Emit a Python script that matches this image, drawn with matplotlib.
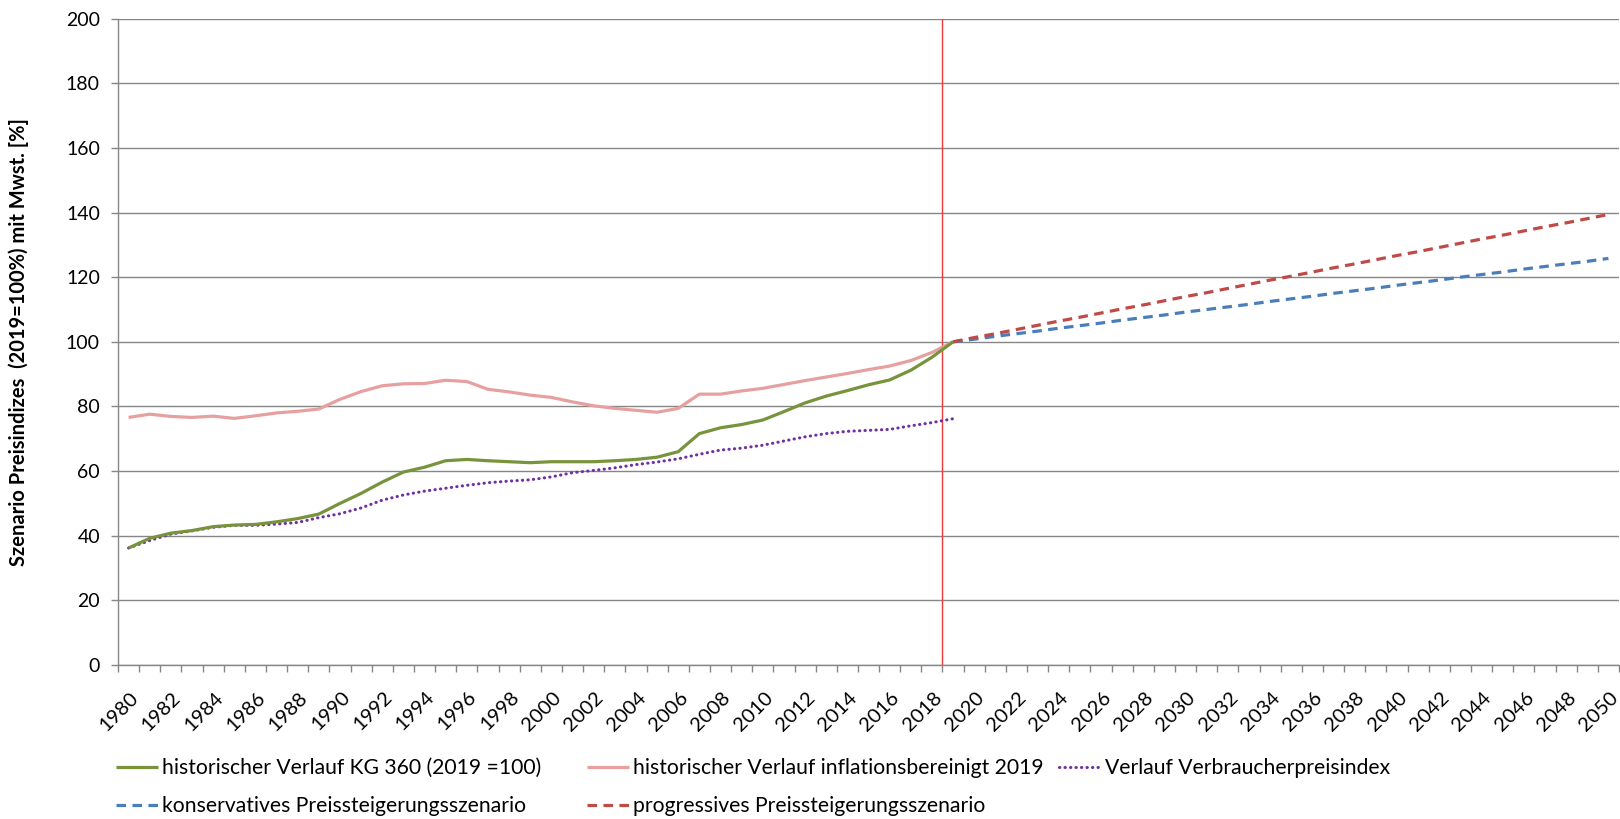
import numpy as np
import matplotlib
matplotlib.use("Agg")
import matplotlib.pyplot as plt
from matplotlib.lines import Line2D
from matplotlib.transforms import ScaledTranslation

years = list(range(1980, 2051))
hist_years = list(range(1980, 2020))
scen_years = list(range(2019, 2051))

kg360 = [36.2, 39.2, 40.8, 41.6, 42.8, 43.3, 43.5, 44.3, 45.3, 46.7,
         50.0, 53.1, 56.6, 59.7, 61.2, 63.2, 63.6, 63.2, 62.9, 62.6,
         62.9, 62.9, 62.9, 63.2, 63.6, 64.3, 66.0, 71.6, 73.4, 74.4,
         75.8, 78.4, 81.1, 83.2, 84.9, 86.7, 88.2, 91.2, 95.2, 100.0]

inflation_adj = [76.6, 77.6, 76.9, 76.6, 77.0, 76.3, 77.1, 78.0, 78.5, 79.2,
                 82.2, 84.6, 86.4, 87.0, 87.1, 88.1, 87.7, 85.3, 84.5, 83.5,
                 82.8, 81.4, 80.2, 79.4, 78.8, 78.2, 79.4, 83.8, 83.8, 84.8,
                 85.6, 86.8, 88.0, 89.1, 90.2, 91.4, 92.5, 94.2, 96.7, 100.0]

vpi = [36.2, 38.5, 40.5, 41.5, 42.6, 43.2, 43.2, 43.6, 44.1, 45.6,
       46.8, 48.6, 51.0, 52.6, 53.8, 54.7, 55.6, 56.4, 56.9, 57.3,
       58.2, 59.5, 60.2, 61.0, 62.0, 62.8, 63.8, 65.2, 66.5, 67.1,
       68.0, 69.3, 70.6, 71.6, 72.3, 72.6, 72.9, 74.0, 75.0, 76.2]

conservative = [100.0, 100.8, 101.7, 102.5, 103.3, 104.2, 105.0, 105.8,
                106.7, 107.5, 108.3, 109.2, 110.0, 110.8, 111.6, 112.5,
                113.3, 114.1, 115.0, 115.8, 116.6, 117.5, 118.3, 119.1,
                120.0, 120.8, 121.6, 122.5, 123.3, 124.1, 124.9, 125.8]

progressive = [100.0, 101.3, 102.5, 103.8, 105.1, 106.4, 107.6, 108.9,
               110.2, 111.4, 112.7, 114.0, 115.2, 116.5, 117.8, 119.1,
               120.3, 121.6, 122.9, 124.1, 125.4, 126.7, 127.9, 129.2,
               130.5, 131.8, 133.0, 134.3, 135.6, 136.8, 138.1, 139.4]

labels = [
    "historischer Verlauf KG 360 (2019 =100)",
    "historischer Verlauf inflationsbereinigt 2019",
    "Verlauf Verbraucherpreisindex",
    "konservatives Preissteigerungsszenario",
    "progressives Preissteigerungsszenario",
]

plt.rcParams["font.family"] = ["Lato", "DejaVu Sans"]
GRAY = "#868686"

fig = plt.figure(figsize=(16.2, 8.19), dpi=100)
ax = fig.add_axes([118 / 1620, 1 - 665 / 819, 1501 / 1620, (665 - 18.6) / 819])


def pos(yrs):
    return [y - 1980 for y in yrs]


ax.axvline(38.5, color="#f03a3a", lw=1.0, zorder=2)

styles = [
    dict(color="#77933c", lw=2.3, solid_capstyle="butt"),
    dict(color="#e6a0a0", lw=2.3, solid_capstyle="butt"),
    dict(color="#7030a0", lw=2.2, linestyle=(0, (0.1, 1.7)), dash_capstyle="round"),
    dict(color="#4a7ebb", lw=2.3, linestyle=(0, (3, 2))),
    dict(color="#be4b48", lw=2.3, linestyle=(0, (3, 2))),
]

ax.plot(pos(hist_years), inflation_adj, zorder=3, **styles[1])
ax.plot(pos(hist_years), vpi, zorder=4, **styles[2])
ax.plot(pos(hist_years), kg360, zorder=5, **styles[0])
ax.plot(pos(scen_years), conservative, zorder=4, **styles[3])
ax.plot(pos(scen_years), progressive, zorder=5, **styles[4])

ax.set_xlim(-0.5, 70.5)
ax.set_ylim(0, 200)
ax.set_yticks(np.arange(0, 201, 20))
ax.grid(axis="y", color=GRAY, lw=1.0)
ax.set_axisbelow(True)

ax.set_xticks(pos(years[::2]))
ax.set_xticklabels([str(y) for y in years[::2]], rotation=45, ha="right",
                   rotation_mode="anchor")
ax.set_xticks(np.arange(-0.5, 71, 1), minor=True)
ax.tick_params(axis="x", which="major", length=0, pad=17, labelsize=14.5)
ax.tick_params(axis="x", which="minor", length=5, color=GRAY, width=1)
ax.tick_params(axis="y", length=5, color=GRAY, width=1, pad=8, labelsize=14)
shift = ScaledTranslation(1 / 100, 0, fig.dpi_scale_trans)
for lbl in ax.get_xticklabels():
    lbl.set_transform(lbl.get_transform() + shift)

for s in ("top", "right"):
    ax.spines[s].set_visible(False)
for s in ("left", "bottom"):
    ax.spines[s].set_color(GRAY)
    ax.spines[s].set_linewidth(1.0)

fig.text(19 / 1620, 1 - 342 / 819, "Szenario Preisindizes  (2019=100%) mit Mwst. [%]",
         rotation=90, ha="center", va="center", fontsize=14.5, fontweight="bold")

legend_pos = [
    (116, 768), (587, 768), (1059, 768),
    (116, 806), (587, 806),
]
for st, lab, (px, py) in zip(styles, labels, legend_pos):
    h = Line2D([], [], **st)
    fig.legend(handles=[h], labels=[lab], loc="center left",
               bbox_to_anchor=(px / 1620, 1 - py / 819), frameon=False,
               borderpad=0, borderaxespad=0, handlelength=2.0,
               handletextpad=0.2, fontsize=15.2)

fig.savefig("out.png", dpi=100)
